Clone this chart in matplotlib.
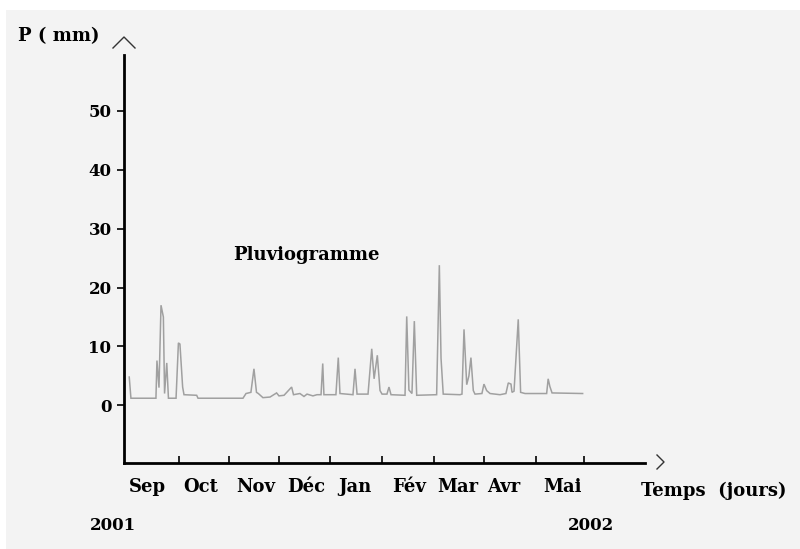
import matplotlib
matplotlib.use("Agg")
import matplotlib.pyplot as plt
from matplotlib.patches import Rectangle

# ---- data (days from 1 Sep 2001, rainfall in mm) ----
days = [3.1, 4.1, 18.9, 19.5, 20.7, 21.9, 23.3, 24.0, 25.3, 26.3, 27.2, 30.8, 32.2, 33.1,
        34.7, 35.5, 43.0, 43.8, 70.4, 72.2, 75.1, 76.9, 78.4, 79.5, 82.2, 86.4, 90.3, 91.7,
        94.7, 99.2, 100.3, 104.1, 106.5, 108.3, 111.8, 114.2, 116.6, 117.6, 118.3, 125.4,
        126.8, 127.8, 135.5, 136.7, 137.9, 144.4, 146.6, 148.0, 149.9, 151.5, 152.7, 155.6,
        156.8, 158.0, 166.3, 167.3, 168.6, 170.4, 171.8, 173.2, 185.0, 186.6, 187.6, 188.9,
        198.8, 200.0, 201.2, 202.8, 204.1, 205.3, 206.7, 207.7, 211.8, 213.0, 214.6, 216.6,
        222.5, 226.0, 227.4, 229.0, 229.6, 230.8, 233.3, 234.7, 237.3, 250.1, 251.0, 252.0,
        253.3, 271.4]
rain = [4.8, 1.2, 1.2, 7.6, 3.0, 17.0, 15.0, 2.0, 7.2, 1.2, 1.2, 1.2, 10.6, 10.4,
        3.1, 1.8, 1.7, 1.2, 1.2, 2.0, 2.2, 6.2, 2.2, 2.0, 1.3, 1.4, 2.1, 1.6,
        1.7, 3.1, 1.8, 2.0, 1.5, 1.9, 1.6, 1.8, 1.8, 7.1, 1.8, 1.8,
        8.1, 2.0, 1.8, 6.2, 1.9, 1.9, 9.6, 4.5, 8.5, 2.5, 1.9, 1.9,
        3.1, 1.8, 1.7, 15.1, 2.6, 2.0, 14.3, 1.7, 1.8, 23.8, 8.0, 1.9,
        1.8, 1.9, 12.9, 3.5, 5.0, 8.1, 2.5, 1.9, 2.0, 3.6, 2.5, 2.0,
        1.8, 2.0, 3.8, 3.6, 2.2, 2.4, 14.6, 2.2, 2.0, 2.0, 4.5, 3.2,
        2.1, 2.0]

month_bounds = [32.5, 62.1, 91.7, 121.9, 152.7, 183.4, 213.0, 243.8, 272.2]
month_label_pos = [13.6, 45.6, 78.1, 107.7, 136.7, 168.6, 197.6, 224.9, 259.2]
month_labels = ["Sep", "Oct", "Nov", "Déc", "Jan", "Fév", "Mar", "Avr", "Mai"]
y_ticks = [0, 10, 20, 30, 40, 50]

W, H = 800, 549
fig = plt.figure(figsize=(W / 100, H / 100), dpi=100)
fig.patch.set_facecolor("white")
bg = "#f3f3f3"
fig.patches.append(Rectangle((6 / W, 0), 1, 1 - 10 / H, transform=fig.transFigure,
                             facecolor=bg, edgecolor="none", zorder=-10))

def fx(px):
    return px / W

def fy(py):
    return 1 - py / H

left, right, top, bottom = 124, 645, 55, 462.7
ax = fig.add_axes([fx(left), fy(bottom), (right - left) / W, (bottom - top) / H])
ax.set_facecolor("none")
ax.set_xlim(0, 308.3)
ax.set_ylim(-9.75, 59.5)

ax.plot(days, rain, color="#a0a0a0", lw=1.1, solid_joinstyle="miter")

for s in ["top", "right"]:
    ax.spines[s].set_visible(False)
for s in ["left", "bottom"]:
    ax.spines[s].set_linewidth(2.0)
    ax.spines[s].set_color("black")

serif = ["DejaVu Serif"]
fs = 13
ax.set_yticks(y_ticks)
ax.set_yticklabels([str(v) for v in y_ticks], fontfamily=serif, fontweight="bold", fontsize=12)
ax.tick_params(axis="y", direction="out", length=5, width=1.2, pad=4)

ax.set_xticks(month_bounds)
ax.set_xticklabels([])
ax.tick_params(axis="x", which="major", direction="in", length=5, width=1.2)
ax.set_xticks(month_label_pos, minor=True)
ax.set_xticklabels(month_labels, minor=True, fontfamily=serif, fontweight="bold", fontsize=fs)
ax.tick_params(axis="x", which="minor", length=0, pad=11)

tk = dict(fontfamily=serif, fontweight="bold", fontsize=fs, color="black")
fig.text(fx(18), fy(36), "P ( mm)", ha="left", va="center", **tk)
fig.text(fx(233), fy(255), "Pluviogramme", ha="left", va="center", **tk)
fig.text(fx(641), fy(491), "Temps  (jours)", ha="left", va="center", **tk)
fig.text(fx(90), fy(526), "2001", ha="left", va="center", fontfamily=serif,
         fontweight="bold", fontsize=12)
fig.text(fx(568), fy(526), "2002", ha="left", va="center", fontfamily=serif,
         fontweight="bold", fontsize=12)

# arrow chevrons at the axis ends
fig.add_artist(plt.Line2D([fx(113), fx(124), fx(135)], [fy(48), fy(37), fy(48)],
                          color="#333333", lw=1.0, transform=fig.transFigure))
fig.add_artist(plt.Line2D([fx(657), fx(664), fx(657)], [fy(455), fy(462), fy(469)],
                          color="#333333", lw=1.0, transform=fig.transFigure))

fig.savefig("out.png", dpi=100, facecolor=fig.get_facecolor())
